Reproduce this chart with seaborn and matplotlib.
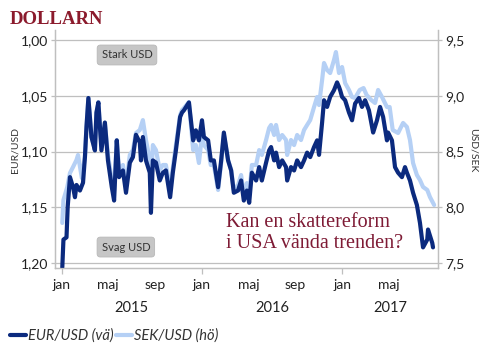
import numpy as np
import pandas as pd
import matplotlib
matplotlib.use("Agg")
import matplotlib.pyplot as plt
import matplotlib.dates as mdates
import matplotlib.transforms as mtransforms
from matplotlib.ticker import FuncFormatter, FixedLocator
from matplotlib.lines import Line2D
import seaborn as sns

# ---------------- data ----------------
eur_dates = [
    "2015-01-02", "2015-01-05", "2015-01-13", "2015-01-16", "2015-01-22", "2015-01-30", "2015-02-04", "2015-02-08", "2015-02-17", "2015-02-25",
    "2015-03-02", "2015-03-06", "2015-03-11", "2015-03-19", "2015-03-28", "2015-04-01", "2015-04-06", "2015-04-14", "2015-04-23", "2015-05-01",
    "2015-05-11", "2015-05-17", "2015-05-24", "2015-05-30", "2015-06-09", "2015-06-17", "2015-06-27", "2015-07-05", "2015-07-13", "2015-07-23",
    "2015-07-26", "2015-07-31", "2015-08-08", "2015-08-18", "2015-08-21", "2015-08-26", "2015-09-03", "2015-09-13", "2015-09-21", "2015-09-29",
    "2015-10-10", "2015-10-17", "2015-10-25", "2015-11-05", "2015-11-10", "2015-11-15", "2015-11-28", "2015-12-09", "2015-12-16", "2015-12-24",
    "2016-01-01", "2016-01-06", "2016-01-17", "2016-01-24", "2016-02-01", "2016-02-12", "2016-02-20", "2016-02-27", "2016-03-09", "2016-03-17",
    "2016-03-24", "2016-04-04", "2016-04-12", "2016-04-19", "2016-04-27", "2016-05-03", "2016-05-10", "2016-05-21", "2016-05-29", "2016-06-05",
    "2016-06-16", "2016-06-24", "2016-06-29", "2016-07-07", "2016-07-12", "2016-07-20", "2016-07-28", "2016-08-07", "2016-08-10", "2016-08-20",
    "2016-08-28", "2016-09-05", "2016-09-15", "2016-09-23", "2016-10-01", "2016-10-09", "2016-10-19", "2016-10-27", "2016-11-01", "2016-11-09",
    "2016-11-14", "2016-11-22", "2016-11-30", "2016-12-10", "2016-12-18", "2016-12-23", "2016-12-26", "2016-12-31",
    "2017-01-08", "2017-01-18", "2017-01-26", "2017-02-03", "2017-02-13", "2017-02-21", "2017-03-01", "2017-03-11", "2017-03-17", "2017-03-22",
    "2017-04-01", "2017-04-09", "2017-04-17", "2017-04-27", "2017-04-30", "2017-05-10", "2017-05-18", "2017-05-26", "2017-06-05", "2017-06-13",
    "2017-06-18", "2017-06-26", "2017-07-04", "2017-07-14", "2017-07-22", "2017-07-30", "2017-08-10", "2017-08-12", "2017-08-23", "2017-08-25",
]
eur_usd = [
    1.204, 1.179, 1.177, 1.150, 1.123, 1.132, 1.141, 1.130, 1.135, 1.128,
    1.105, 1.078, 1.052, 1.087, 1.099, 1.065, 1.056, 1.099, 1.074, 1.108,
    1.132, 1.144, 1.090, 1.123, 1.117, 1.137, 1.110, 1.105, 1.085, 1.092,
    1.108, 1.087, 1.108, 1.119, 1.155, 1.108, 1.110, 1.126, 1.119, 1.117,
    1.141, 1.119, 1.099, 1.069, 1.065, 1.063, 1.056, 1.090, 1.081, 1.090,
    1.072, 1.087, 1.090, 1.108, 1.108, 1.132, 1.108, 1.083, 1.108, 1.117,
    1.137, 1.135, 1.126, 1.144, 1.135, 1.146, 1.119, 1.126, 1.114, 1.126,
    1.110, 1.099, 1.096, 1.108, 1.101, 1.114, 1.108, 1.114, 1.126, 1.114,
    1.117, 1.108, 1.114, 1.108, 1.101, 1.105, 1.096, 1.090, 1.103, 1.074,
    1.054, 1.060, 1.051, 1.045, 1.038, 1.042, 1.045, 1.051,
    1.054, 1.065, 1.072, 1.057, 1.052, 1.060, 1.054, 1.063, 1.074, 1.083,
    1.072, 1.060, 1.069, 1.090, 1.083, 1.090, 1.114, 1.119, 1.123, 1.114,
    1.119, 1.126, 1.137, 1.148, 1.164, 1.186, 1.179, 1.170, 1.182, 1.186,
]

sek_dates = [
    "2015-01-02", "2015-01-05", "2015-01-15", "2015-01-22", "2015-01-30", "2015-02-08", "2015-02-12", "2015-02-22", "2015-03-02", "2015-03-06",
    "2015-03-11", "2015-03-19", "2015-03-28", "2015-04-01", "2015-04-06", "2015-04-14", "2015-04-23", "2015-05-01", "2015-05-11", "2015-05-17",
    "2015-05-24", "2015-05-30", "2015-06-09", "2015-06-17", "2015-06-27", "2015-07-05", "2015-07-13", "2015-07-23", "2015-07-31", "2015-08-08",
    "2015-08-18", "2015-08-21", "2015-08-26", "2015-09-03", "2015-09-13", "2015-09-21", "2015-09-29", "2015-10-10", "2015-10-17", "2015-10-25",
    "2015-11-05", "2015-11-10", "2015-11-15", "2015-11-28", "2015-12-09", "2015-12-16", "2015-12-24",
    "2016-01-01", "2016-01-06", "2016-01-17", "2016-01-24", "2016-02-01", "2016-02-12", "2016-02-20", "2016-02-27", "2016-03-09", "2016-03-17",
    "2016-03-24", "2016-04-04", "2016-04-12", "2016-04-19", "2016-04-27", "2016-05-03", "2016-05-10", "2016-05-21", "2016-05-29", "2016-06-05",
    "2016-06-16", "2016-06-24", "2016-06-29", "2016-07-07", "2016-07-12", "2016-07-20", "2016-07-28", "2016-08-07", "2016-08-10", "2016-08-20",
    "2016-08-28", "2016-09-05", "2016-09-15", "2016-09-23", "2016-10-01", "2016-10-09", "2016-10-19", "2016-10-27", "2016-11-01", "2016-11-09",
    "2016-11-14", "2016-11-22", "2016-11-30", "2016-12-10", "2016-12-15", "2016-12-23", "2016-12-31",
    "2017-01-08", "2017-01-18", "2017-01-26", "2017-02-03", "2017-02-15", "2017-02-25", "2017-03-05", "2017-03-17", "2017-03-27", "2017-04-04",
    "2017-04-14", "2017-04-27", "2017-05-04", "2017-05-12", "2017-05-26", "2017-06-08", "2017-06-18", "2017-06-26", "2017-07-04", "2017-07-14",
    "2017-07-22", "2017-07-30", "2017-08-10", "2017-08-17", "2017-08-28",
]
sek_usd = [
    7.859, 8.065, 8.182, 8.307, 8.361, 8.424, 8.469, 8.262, 8.451, 8.720,
    8.980, 8.630, 8.513, 8.845, 8.944, 8.558, 8.756, 8.469, 8.244, 8.155,
    8.603, 8.334, 8.379, 8.200, 8.469, 8.513, 8.666, 8.693, 8.782, 8.603,
    8.424, 8.200, 8.558, 8.513, 8.334, 8.379, 8.379, 8.155, 8.352, 8.558,
    8.827, 8.872, 8.890, 8.944, 8.513, 8.558, 8.397,
    8.648, 8.558, 8.513, 8.379, 8.379, 8.155, 8.397, 8.648, 8.424, 8.334,
    8.155, 8.200, 8.289, 8.110, 8.217, 8.110, 8.379, 8.379, 8.513, 8.469,
    8.603, 8.711, 8.738, 8.648, 8.738, 8.603, 8.648, 8.603, 8.469, 8.603,
    8.558, 8.648, 8.603, 8.693, 8.738, 8.782, 8.899, 8.989, 8.917, 9.141,
    9.294, 9.231, 9.204, 9.321, 9.392, 9.204, 9.258,
    9.114, 9.052, 8.989, 8.980, 9.052, 9.069, 9.007, 8.962, 8.935, 9.052,
    8.989, 8.899, 8.899, 8.693, 8.666, 8.756, 8.720, 8.603, 8.397, 8.289,
    8.244, 8.182, 8.155, 8.092, 8.020,
]

left_ticks = [1.00, 1.05, 1.10, 1.15, 1.20]
right_ticks = [7.5, 8.0, 8.5, 9.0, 9.5]
month_tick_dates = ["2015-01-01", "2015-05-01", "2015-09-01", "2016-01-01",
                    "2016-05-01", "2016-09-01", "2017-01-01", "2017-05-01"]
month_tick_labels = ["jan", "maj", "sep", "jan", "maj", "sep", "jan", "maj"]
year_tick_dates = ["2015-01-01", "2016-01-01", "2017-01-01"]
year_labels = ["2015", "2016", "2017"]
year_label_dates = ["2015-07-02", "2016-07-02", "2017-05-05"]
series_labels = ["EUR/USD (vä)", "SEK/USD (hö)"]

DARK = "#0B2A7E"
LIGHT = "#B5D0F5"
GRID = "#bfbfbf"
TXT = "#222222"
RED = "#7E1B35"

# ---------------- figure ----------------
sns.set_theme(style="white")
plt.rcParams['font.family'] = ['Lato', 'DejaVu Sans']

fig = plt.figure(figsize=(4.88, 3.58), dpi=100)
fig.patch.set_facecolor("white")
ax = fig.add_axes([55 / 488, 1 - 268 / 358, 383 / 488, 238 / 358])
ax2 = ax.twinx()

eur_df = pd.DataFrame({"date": pd.to_datetime(eur_dates), "val": eur_usd})
sek_df = pd.DataFrame({"date": pd.to_datetime(sek_dates), "val": sek_usd})

sns.lineplot(data=sek_df, x="date", y="val", ax=ax2, color=LIGHT, linewidth=3.0)
sns.lineplot(data=eur_df, x="date", y="val", ax=ax, color=DARK, linewidth=3.0)

ax2.set_zorder(1)
ax.set_zorder(2)
ax.patch.set_visible(False)

ax.set_ylim(1.2045, 0.991)
ax2.set_ylim(7.455, 9.590)
ax.set_yticks(left_ticks)
ax2.set_yticks(right_ticks)
ax.yaxis.set_major_formatter(FuncFormatter(lambda v, p: f"{v:.2f}".replace(".", ",")))
ax2.yaxis.set_major_formatter(FuncFormatter(lambda v, p: f"{v:.1f}".replace(".", ",")))

ax.set_xlim(pd.Timestamp("2014-12-14"), pd.Timestamp("2017-09-07"))
ax.xaxis.set_major_locator(FixedLocator(mdates.date2num(pd.to_datetime(month_tick_dates))))
ax.set_xticklabels(month_tick_labels)
ax.xaxis.set_minor_locator(FixedLocator(mdates.date2num(pd.to_datetime(year_tick_dates))))
ax.xaxis.remove_overlapping_locs = False

ax.grid(False)
ax2.grid(True, axis="y", color=GRID, linewidth=0.9)
ax2.grid(False, axis="x")

for a in (ax, ax2):
    a.set_xlabel("")
    a.set_ylabel("")
    a.spines["top"].set_visible(False)
    for s in ("left", "right", "bottom"):
        a.spines[s].set_color(GRID)
        a.spines[s].set_linewidth(0.9)

ax.tick_params(axis="y", which="major", direction="out", length=3, width=0.9, color=GRID,
               labelsize=10, labelcolor=TXT, pad=2, left=True)
ax2.tick_params(axis="y", which="major", direction="out", length=3, width=0.9, color=GRID,
                labelsize=10, labelcolor=TXT, pad=2, right=True)
ax.tick_params(axis="x", which="major", length=0, labelsize=10, labelcolor=TXT, pad=8)
ax.tick_params(axis="x", which="minor", direction="out", length=4, width=0.9, color=GRID, bottom=True)

blend = mtransforms.blended_transform_factory(ax.transData, ax.transAxes)
for lab, d in zip(year_labels, year_label_dates):
    ax.text(mdates.date2num(pd.Timestamp(d)), -0.166, lab, transform=blend,
            ha="center", va="center", fontsize=10.5, color=TXT)

fig.text(15 / 488, 1 - 150 / 358, "EUR/USD", rotation=90, ha="center", va="center",
         fontsize=7.5, color="#333333")
fig.text(473 / 488, 1 - 150 / 358, "USD/SEK", rotation=270, ha="center", va="center",
         fontsize=7.5, color="#333333")

box = dict(boxstyle="round,pad=0.4,rounding_size=0.3", fc="#c6c6c6", ec="#b8b8b8", lw=0.6)
ax.text(0.188, 0.895, "Stark USD", transform=ax.transAxes, ha="center", va="center",
        fontsize=8, color="#333333", bbox=box, zorder=5)
ax.text(0.185, 0.088, "Svag USD", transform=ax.transAxes, ha="center", va="center",
        fontsize=8, color="#333333", bbox=box, zorder=5)

fig.text(226 / 488, 1 - 233 / 358, "Kan en skattereform\ni USA vända trenden?",
         family="Liberation Serif", fontsize=14.5, color=RED, linespacing=1.1,
         ha="left", va="center")

fig.text(10 / 488, 1 - 19 / 358, "DOLLARN", family="Liberation Serif", weight="bold",
         fontsize=13.5, color="#8B1A2C", ha="left", va="center")

handles = [Line2D([0], [0], color=DARK, lw=3), Line2D([0], [0], color=LIGHT, lw=3)]
fig.legend(handles, series_labels, loc="center left", bbox_to_anchor=(10 / 488, 1 - 336 / 358),
           ncol=2, frameon=False, prop={"family": "Lato", "style": "italic", "size": 10.5},
           handlelength=1.1, handletextpad=0.15, columnspacing=0.15, borderpad=0,
           borderaxespad=0, labelcolor="#333333")

fig.savefig("out.png", dpi=100, facecolor="white")
